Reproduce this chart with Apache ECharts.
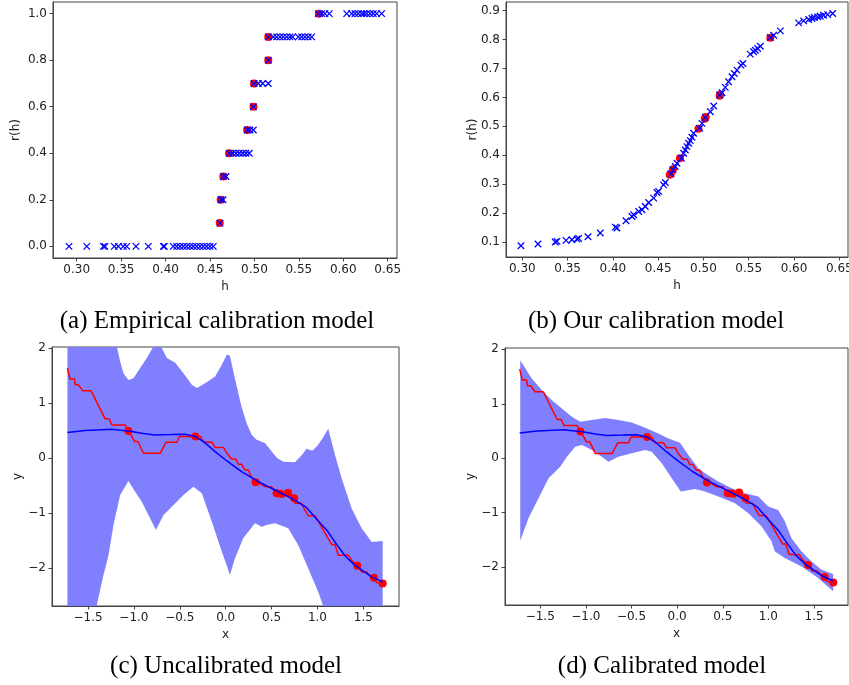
<!DOCTYPE html>
<html>
<head>
<meta charset="utf-8">
<script src="https://cdn.jsdelivr.net/npm/echarts@6/dist/echarts.min.js"></script>
<style>
    html, body { margin: 0; padding: 0; background: #fff; }
    #chart { width: 849px; height: 685px; }
</style>
</head>
<body>
<div id="chart"></div>
<script>
'use strict';

// (a) empirical calibration: h and r(h) for every sample
var empiricalH = [
    0.2913, 0.3113, 0.3300, 0.3318, 0.3423, 0.3468, 0.3524, 0.3563, 0.3667, 0.3806, 0.3975, 0.3986,
    0.4087, 0.4125, 0.4162, 0.4200, 0.4238, 0.4275, 0.4312, 0.4350, 0.4388, 0.4425, 0.4463, 0.4500, 0.4537,
    0.4613,
    0.4624, 0.4646,
    0.4650, 0.4680,
    0.4717, 0.4756, 0.4793, 0.4830, 0.4868, 0.4905, 0.4942,
    0.4920, 0.4950, 0.4988,
    0.4988,
    0.4995, 0.5044, 0.5093, 0.5156,
    0.5156,
    0.5156, 0.5213, 0.5250, 0.5288, 0.5325, 0.5363, 0.5400, 0.5430, 0.5494, 0.5532, 0.5569, 0.5606, 0.5645,
    0.5719, 0.5757, 0.5794, 0.5843, 0.6039, 0.6095, 0.6132, 0.6169, 0.6207, 0.6233, 0.6263, 0.6301,
    0.6338, 0.6376, 0.6432
];
var empiricalR = [
    0, 0, 0, 0, 0, 0, 0, 0, 0, 0, 0, 0,
    0, 0, 0, 0, 0, 0, 0, 0, 0, 0, 0, 0, 0,
    0.1,
    0.2, 0.2,
    0.3, 0.3,
    0.4, 0.4, 0.4, 0.4, 0.4, 0.4, 0.4,
    0.5, 0.5, 0.5,
    0.6,
    0.7, 0.7, 0.7, 0.7,
    0.8,
    0.9, 0.9, 0.9, 0.9, 0.9, 0.9, 0.9, 0.9, 0.9, 0.9, 0.9, 0.9, 0.9,
    1, 1, 1, 1, 1, 1, 1, 1, 1, 1, 1, 1,
    1, 1, 1
];
var empiricalRedH = [0.4610, 0.4620, 0.4650, 0.4715, 0.4918, 0.4990, 0.4995, 0.5156, 0.5156, 0.5725];
var empiricalRedR = [0.1, 0.2, 0.3, 0.4, 0.5, 0.6, 0.7, 0.8, 0.9, 1.0];

// (b) our calibration model
var ourH = [
    0.2985, 0.3173, 0.3364, 0.3383, 0.3482, 0.3548, 0.3604, 0.3622, 0.3725, 0.3861, 0.4027, 0.4045,
    0.4145, 0.4211, 0.4230, 0.4285, 0.4321, 0.4358, 0.4395, 0.4450, 0.4487, 0.4505, 0.4560, 0.4579,
    0.4642, 0.4664, 0.4689, 0.4708, 0.4756, 0.4781, 0.4800, 0.4818, 0.4837, 0.4855, 0.4873, 0.4892,
    0.4958, 0.4984, 0.5021, 0.5076, 0.5113, 0.5179, 0.5205, 0.5241, 0.5278, 0.5315, 0.5341, 0.5370,
    0.5414, 0.5436, 0.5517, 0.5554, 0.5573, 0.5598, 0.5628, 0.5738, 0.5775, 0.5849,
    0.6051, 0.6106, 0.6162, 0.6198, 0.6224, 0.6261, 0.6290, 0.6327, 0.6371, 0.6427
];
var ourR = [
    0.0874, 0.0931, 0.1000, 0.1023, 0.1057, 0.1080, 0.1103, 0.1126, 0.1184, 0.1310, 0.1517, 0.1483,
    0.1736, 0.1885, 0.1943, 0.2057, 0.2115, 0.2230, 0.2368, 0.2517, 0.2713, 0.2750, 0.2977, 0.3057,
    0.3356, 0.3494, 0.3610, 0.3724, 0.3897, 0.4069, 0.4184, 0.4299, 0.4414, 0.4506, 0.4621, 0.4759,
    0.4931, 0.5103, 0.5310, 0.5506, 0.5701, 0.6080, 0.6160, 0.6345, 0.6540, 0.6713, 0.6828, 0.6943,
    0.7115, 0.7172, 0.7494, 0.7575, 0.7632, 0.7690, 0.7770, 0.8069, 0.8150, 0.8299,
    0.8575, 0.8644, 0.8690, 0.8724, 0.8759, 0.8782, 0.8805, 0.8839, 0.8862, 0.8897
];
var ourRedH = [0.4628, 0.4640, 0.4664, 0.4740, 0.4945, 0.5015, 0.5025, 0.5179, 0.5182, 0.5738];
var ourRedR = [0.333, 0.336, 0.352, 0.390, 0.492, 0.526, 0.532, 0.606, 0.609, 0.806];

// (c)/(d) regression: step curve, mean prediction, observed points
var stepCurve = [
    [-1.725, 1.635], [-1.696, 1.435], [-1.648, 1.435], [-1.640, 1.330], [-1.605, 1.330], [-1.558, 1.220],
    [-1.467, 1.220], [-1.314, 0.711], [-1.270, 0.711], [-1.241, 0.600], [-1.096, 0.600], [-1.060, 0.490],
    [-1.023, 0.390], [-0.994, 0.300], [-0.957, 0.300], [-0.896, 0.085], [-0.714, 0.085], [-0.649, 0.286],
    [-0.532, 0.286], [-0.503, 0.390], [-0.278, 0.390], [-0.241, 0.286], [-0.150, 0.286], [-0.115, 0.190],
    [-0.023, 0.190], [0.013, 0.085], [0.028, 0.085], [0.064, -0.018], [0.112, -0.018], [0.136, -0.116],
    [0.173, -0.116], [0.209, -0.219], [0.246, -0.219], [0.275, -0.328], [0.326, -0.444], [0.354, -0.444],
    [0.428, -0.523], [0.501, -0.523], [0.537, -0.614], [0.555, -0.630], [0.595, -0.645], [0.627, -0.720],
    [0.675, -0.632], [0.747, -0.735], [0.755, -0.826], [0.827, -0.826], [0.864, -0.948], [0.900, -1.050],
    [0.973, -1.050], [1.155, -1.574], [1.191, -1.574], [1.227, -1.769], [1.336, -1.769], [1.373, -1.860],
    [1.435, -1.960], [1.482, -2.073], [1.537, -2.073], [1.591, -2.180], [1.616, -2.180], [1.646, -2.270],
    [1.682, -2.270], [1.711, -2.285]
];
var meanCurve = [
    [-1.725, 0.462], [-1.533, 0.498], [-1.350, 0.515], [-1.241, 0.523], [-1.120, 0.500], [-1.023, 0.480],
    [-0.900, 0.445], [-0.769, 0.419], [-0.600, 0.425], [-0.442, 0.431], [-0.333, 0.390], [-0.241, 0.297],
    [-0.115, 0.115], [0.013, -0.055], [0.173, -0.249], [0.355, -0.432], [0.537, -0.583], [0.718, -0.735],
    [0.880, -0.900], [1.000, -1.130], [1.110, -1.330], [1.200, -1.550], [1.300, -1.780], [1.400, -1.940],
    [1.500, -2.060], [1.591, -2.163], [1.711, -2.255]
];
var observedX = [-1.060, -0.330, 0.326, 0.555, 0.600, 0.680, 0.747, 1.435, 1.616, 1.711];
var observedY = [0.490, 0.390, -0.444, -0.644, -0.650, -0.632, -0.735, -1.960, -2.180, -2.285];

// (c) uncalibrated uncertainty band
var uncalUpper = [
    [-1.725, 3.20], [-1.450, 2.70], [-1.250, 2.20], [-1.187, 2.03], [-1.151, 1.76], [-1.114, 1.54],
    [-1.060, 1.42], [-1.005, 1.45], [-0.932, 1.635], [-0.860, 1.82], [-0.787, 2.03], [-0.760, 2.08],
    [-0.696, 2.00], [-0.641, 1.82], [-0.550, 1.73], [-0.460, 1.54], [-0.369, 1.33], [-0.314, 1.27],
    [-0.224, 1.36], [-0.115, 1.48], [-0.041, 1.70], [0.013, 1.88], [0.046, 1.86], [0.100, 1.45],
    [0.170, 0.95], [0.230, 0.62], [0.283, 0.42], [0.337, 0.33], [0.428, 0.27], [0.500, 0.12],
    [0.560, 0.00], [0.628, -0.07], [0.755, -0.08], [0.828, 0.05], [0.882, 0.165], [0.944, 0.13],
    [1.000, 0.22], [1.046, 0.33], [1.118, 0.53], [1.191, 0.06], [1.264, -0.37], [1.373, -0.92],
    [1.482, -1.28], [1.591, -1.53], [1.711, -1.51]
];
var uncalLower = [
    [-1.725, -4.50], [-1.500, -3.30], [-1.405, -2.68], [-1.332, -2.13], [-1.277, -1.77], [-1.223, -1.22],
    [-1.150, -0.675], [-1.060, -0.42], [-0.987, -0.614], [-0.914, -0.796], [-0.823, -1.10], [-0.761, -1.31],
    [-0.677, -1.04], [-0.587, -0.888], [-0.460, -0.675], [-0.351, -0.523], [-0.260, -0.644], [-0.151, -1.16],
    [-0.041, -1.71], [0.013, -1.96], [0.046, -2.13], [0.100, -1.83], [0.191, -1.46], [0.319, -1.19],
    [0.392, -1.25], [0.446, -1.22], [0.537, -1.19], [0.682, -1.28], [0.791, -1.586], [0.900, -2.01],
    [1.009, -2.44], [1.064, -2.70], [1.300, -3.40], [1.711, -4.20]
];

// (d) calibrated uncertainty band
var calUpper = [
    [-1.719, 1.80], [-1.591, 1.46], [-1.481, 1.25], [-1.372, 1.065], [-1.263, 0.914], [-1.153, 0.76],
    [-1.062, 0.669], [-0.934, 0.70], [-0.789, 0.74], [-0.643, 0.70], [-0.497, 0.657], [-0.351, 0.559],
    [-0.205, 0.455], [-0.096, 0.364], [0.032, 0.285], [0.123, 0.058], [0.232, -0.185], [0.305, -0.277],
    [0.451, -0.43], [0.597, -0.552], [0.743, -0.644], [0.889, -0.705], [0.998, -0.888], [1.107, -0.949],
    [1.180, -1.16], [1.253, -1.468], [1.363, -1.712], [1.473, -1.895], [1.582, -2.048], [1.709, -2.127]
];
var calLower = [
    [-1.719, -1.517], [-1.628, -1.10], [-1.519, -0.735], [-1.409, -0.369], [-1.281, -0.155], [-1.208, 0.028],
    [-1.117, 0.21], [-1.044, 0.241], [-0.934, 0.15], [-0.825, 0.028], [-0.752, -0.064], [-0.643, 0.028],
    [-0.497, 0.09], [-0.351, 0.15], [-0.278, 0.119], [-0.168, -0.094], [-0.059, -0.369], [0.040, -0.61],
    [0.196, -0.564], [0.305, -0.61], [0.451, -0.705], [0.634, -0.827], [0.780, -1.01], [0.926, -1.254],
    [1.035, -1.529], [1.071, -1.712], [1.180, -1.834], [1.363, -1.987], [1.545, -2.20], [1.709, -2.445]
];

var hTicks = [0.30, 0.35, 0.40, 0.45, 0.50, 0.55, 0.60, 0.65];
var empiricalRTicks = [0.0, 0.2, 0.4, 0.6, 0.8, 1.0];
var ourRTicks = [0.1, 0.2, 0.3, 0.4, 0.5, 0.6, 0.7, 0.8, 0.9];
var xTicks = [-1.5, -1.0, -0.5, 0.0, 0.5, 1.0, 1.5];
var yTicks = [-2, -1, 0, 1, 2];

var captions = ['(a) Empirical calibration model', '(b) Our calibration model',
    '(c) Uncalibrated model', '(d) Calibrated model'];

(function () {
    var FONT = 'DejaVu Sans';
    var INK = '#222';
    var EDGE = '#444';

    function zip(xs, ys) {
        return xs.map(function (x, i) { return [x, ys[i]]; });
    }

    function fmt(digits) {
        return function (v) {
            var s = Math.abs(v).toFixed(digits);
            return v < -1e-9 ? '\u2212' + s : s;
        };
    }

    function grid(left, top, width, height) {
        return {
            left: left, top: top, width: width, height: height,
            show: true, borderColor: EDGE, borderWidth: 1,
            outerBoundsMode: 'none', containLabel: false
        };
    }

    function axis(idx, min, max, ticks, digits, name, gap, vertical) {
        return {
            type: 'value', gridIndex: idx, min: min, max: max,
            name: name, nameLocation: 'middle', nameGap: gap,
            nameRotate: vertical ? 90 : 0, nameMoveOverlap: false,
            nameTextStyle: { fontFamily: FONT, fontSize: 12, color: INK },
            axisLine: { show: true, onZero: false, lineStyle: { color: EDGE, width: 1 } },
            axisTick: { show: true, inside: false, length: 3.5, customValues: ticks, lineStyle: { color: EDGE } },
            axisLabel: {
                customValues: ticks, formatter: fmt(digits), margin: 6,
                fontFamily: FONT, fontSize: 12, color: INK
            },
            splitLine: { show: false }
        };
    }

    var crossSymbol = 'path://M0,0L10,10M10,0L0,10';

    function crosses(idx, data) {
        return {
            type: 'scatter', xAxisIndex: idx, yAxisIndex: idx, data: data,
            symbol: crossSymbol, symbolSize: 6.5, silent: true,
            itemStyle: { color: 'rgba(0,0,0,0)', borderColor: '#0000ff', borderWidth: 1.3, opacity: 1 }
        };
    }

    function dots(idx, data) {
        return {
            type: 'scatter', xAxisIndex: idx, yAxisIndex: idx, data: data,
            symbol: 'circle', symbolSize: 8, silent: true,
            itemStyle: { color: '#ff0000', opacity: 1 }
        };
    }

    function line(idx, data, color) {
        return {
            type: 'line', xAxisIndex: idx, yAxisIndex: idx, data: data,
            showSymbol: false, silent: true, clip: true,
            lineStyle: { color: color, width: 1.5 }
        };
    }

    function band(idx, upper, lower) {
        return {
            type: 'custom', xAxisIndex: idx, yAxisIndex: idx, silent: true, clip: true,
            data: [[0, 0]],
            renderItem: function (params, api) {
                var pts = upper.map(function (p) { return api.coord(p); })
                    .concat(lower.slice().reverse().map(function (p) { return api.coord(p); }));
                var cs = params.coordSys;
                return {
                    type: 'polygon',
                    shape: { points: pts },
                    style: { fill: '#8080ff' },
                    clipPath: { type: 'rect', shape: { x: cs.x, y: cs.y, width: cs.width, height: cs.height } }
                };
            }
        };
    }

    function caption(text, x, y) {
        return {
            type: 'text', x: x, y: y, silent: true,
            style: {
                text: text, fill: '#000', align: 'center', verticalAlign: 'middle',
                font: '25px "Liberation Serif", "Times New Roman", serif'
            }
        };
    }

    var observed = zip(observedX, observedY);

    var option = {
        animation: false,
        backgroundColor: '#fff',
        grid: [
            grid(53, 2, 344, 256),
            grid(506, 2, 342, 255),
            grid(52, 347, 347, 259),
            grid(505, 348, 343, 257)
        ],
        xAxis: [
            axis(0, 0.2733, 0.6605, hTicks, 2, 'h', 23, false),
            axis(1, 0.2820, 0.6596, hTicks, 2, 'h', 23, false),
            axis(2, -1.893, 1.889, xTicks, 1, 'x', 23, false),
            axis(3, -1.886, 1.872, xTicks, 1, 'x', 23, false)
        ],
        yAxis: [
            axis(0, -0.05, 1.05, empiricalRTicks, 1, 'r(h)', 31, true),
            axis(1, 0.0483, 0.9297, ourRTicks, 1, 'r(h)', 27, true),
            axis(2, -2.693, 2.018, yTicks, 0, 'y', 28, true),
            axis(3, -2.696, 2.024, yTicks, 0, 'y', 28, true)
        ],
        series: [
            dots(0, zip(empiricalRedH, empiricalRedR)),
            crosses(0, zip(empiricalH, empiricalR)),
            dots(1, zip(ourRedH, ourRedR)),
            crosses(1, zip(ourH, ourR)),
            band(2, uncalUpper, uncalLower),
            line(2, stepCurve, '#ff0000'),
            line(2, meanCurve, '#0000ff'),
            dots(2, observed),
            band(3, calUpper, calLower),
            line(3, stepCurve, '#ff0000'),
            line(3, meanCurve, '#0000ff'),
            dots(3, observed)
        ],
        graphic: [
            caption(captions[0], 217, 321),
            caption(captions[1], 656, 321),
            caption(captions[2], 226, 666),
            caption(captions[3], 662, 666)
        ]
    };

    var chart = echarts.init(document.getElementById('chart'), null, { renderer: 'canvas' });
    chart.setOption(option);
})();
</script>
</body>
</html>
